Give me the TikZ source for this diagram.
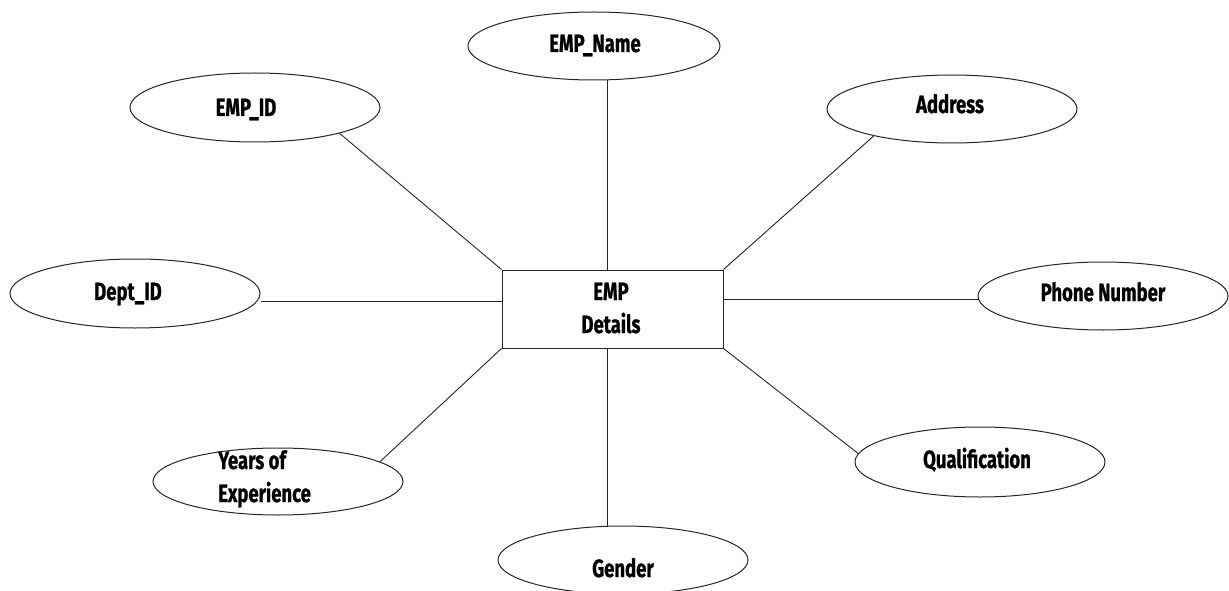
\documentclass[tikz,border=0pt]{standalone}
\usepackage{fontspec}
\setmainfont{Fira Sans}[FakeStretch=0.74, BoldFeatures={FakeBold=0.8}]
\usetikzlibrary{shapes.geometric,calc}

\begin{document}
\begin{tikzpicture}[x=1pt,y=-1pt,
  attr/.style={draw=black!85, line width=1pt, ellipse, inner sep=0pt},
  entity/.style={draw=black!85, line width=1pt, rectangle, inner sep=0pt},
  lbl/.style={font=\fontsize{25}{33}\selectfont\bfseries, inner sep=0pt, anchor=base},
  link/.style={draw=black!85, line width=0.9pt}]
\useasboundingbox (0,0) rectangle (1229,591);

% entity
\node[entity, minimum width=221pt, minimum height=78pt] (emp) at (612.5,309) {};
\node[lbl, align=center] (empT) at (611,333) {EMP\\Details};

% attributes
\node[attr, minimum width=252pt, minimum height=68pt] (name) at (594,46) {};
\node[attr, minimum width=250pt, minimum height=69pt] (id) at (255,107.5) {};
\node[attr, minimum width=250pt, minimum height=68pt] (addr) at (952,109) {};
\node[attr, minimum width=250pt, minimum height=69pt] (dept) at (135,293.5) {};
\node[attr, minimum width=250pt, minimum height=68pt] (phone) at (1103,296) {};
\node[attr, minimum width=250pt, minimum height=67pt] (yoe) at (278,481.5) {};
\node[attr, minimum width=250pt, minimum height=70pt] (qual) at (980,462) {};
\node[attr, minimum width=250pt, minimum height=68pt] (gen) at (623,560) {};

% attribute names
\node[lbl] (nameT) at (595,52) {EMP\_Name};
\node[lbl] (idT) at (246,116) {EMP\_ID};
\node[lbl] (addrT) at (950,113) {Address};
\node[lbl] (deptT) at (128,300) {Dept\_ID};
\node[lbl] (phoneT) at (1103,301) {Phone Number};
\node[lbl, anchor=base west, align=left] (yoeT) at (218,502) {Years of\\Experience};
\node[lbl] (qualT) at (977,468) {Qualification};
\node[lbl] (genT) at (623,577) {Gender};

% connectors
\coordinate (nt) at ($(emp.north)+(-5.5,0)$);
\coordinate (nb) at ($(emp.south)+(-5.5,0)$);
\coordinate (wl) at (emp.west |- 0,301);
\coordinate (el) at (emp.east |- 0,299);
\draw[link] (nt) -- (nt |- name.south);
\draw[link] (nb) -- (nb |- gen.north);
\draw[link] (wl) -- (wl -| dept.east);
\draw[link] (el) -- (el -| phone.west);
\draw[link] (emp.north west) -- (id.-17);
\draw[link] (emp.north east) -- (addr.199);
\draw[link] (emp.south west) -- (yoe.11);
\draw[link] (emp.south east) -- (qual.176);
\end{tikzpicture}
\end{document}
